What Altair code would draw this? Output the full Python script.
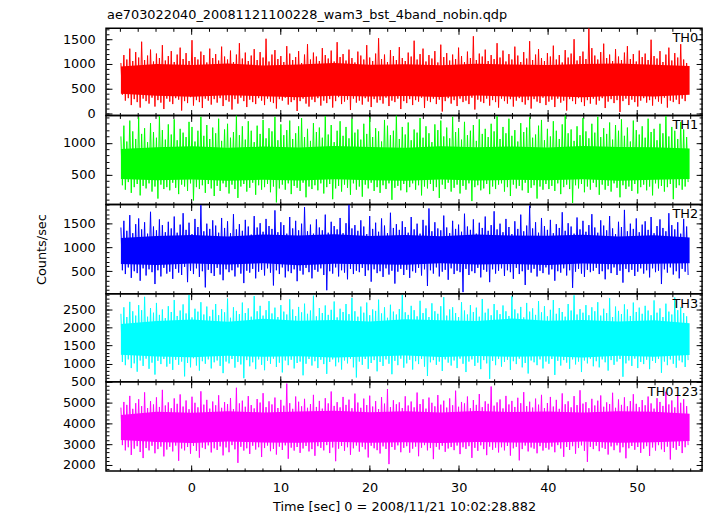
import altair as alt
import numpy as np
import pandas as pd

TITLE = "ae703022040_20081121100228_wam3_bst_4band_nobin.qdp"
X_TITLE = "Time [sec] 0 = 2008/11/21 10:02:28.882"
Y_TITLE = "Counts/sec"

band_names = ["TH0", "TH1", "TH2", "TH3", "TH0123"]
band_colors = ["#ff0000", "#00ff00", "#0000ff", "#00ffff", "#ff00ff"]

t_start = -7.9
t_stop = 55.9
n_bins = 192

# ---- TH0 ----
peaks_th0 = [
    1020, 1180, 1090, 1310, 1060, 1240, 1130, 1450, 1080, 1170, 1290, 1050, 1210, 1120, 1380, 1070,
    1160, 1260, 1040, 1190, 1330, 1100, 1220, 1060, 1480, 1140, 1090, 1250, 1180, 1030, 1310, 1120,
    1200, 1070, 1350, 1150, 1090, 1270, 1040, 1190, 1420, 1110, 1230, 1060, 1170, 1300, 1080, 1240,
    1130, 1510, 1050, 1190, 1280, 1100, 1160, 1040, 1360, 1210, 1080, 1140, 1260, 1020, 1190, 1400,
    1090, 1230, 1150, 1060, 1320, 1180, 1110, 1270, 1050, 1440, 1140, 1200, 1070, 1290, 1120, 1030,
    1250, 1170, 1090, 1380, 1130, 1060, 1210, 1520, 1100, 1190, 1040, 1280, 1160, 1080, 1340, 1120,
    1060, 1230, 1150, 1470, 1090, 1200, 1310, 1050, 1180, 1110, 1260, 1030, 1390, 1140, 1220, 1070,
    1190, 1100, 1330, 1160, 1040, 1250, 1120, 1560, 1080, 1210, 1150, 1290, 1060, 1180, 1100, 1420,
    1130, 1270, 1050, 1200, 1090, 1350, 1170, 1040, 1240, 1110, 1460, 1080, 1190, 1300, 1120, 1060,
    1220, 1150, 1370, 1090, 1180, 1030, 1280, 1130, 1210, 1500, 1070, 1160, 1250, 1100, 1720, 1320,
    1170, 1090, 1240, 1410, 1120, 1190, 1060, 1300, 1150, 1080, 1230, 1360, 1100, 1200, 1050, 1270,
    1140, 1210, 1080, 1490, 1160, 1110, 1260, 1040, 1190, 1330, 1070, 1220, 1130, 1400, 1090, 1020,
]
dips_th0 = [
    380, 260, 310, 170, 290, 230, 120, 300, 250, 200, 320, 140, 270, 220, 90, 300,
    240, 190, 310, 280, 60, 250, 210, 330, 160, 270, 230, 110, 300, 260, 180, 290,
    220, 310, 150, 270, 240, 80, 290, 200, 320, 250, 130, 280, 230, 190, 310, 260,
    170, 300, 240, 210, 100, 290, 260, 320, 180, 230, 270, 50, 250, 300, 200, 140,
    280, 230, 310, 160, 260, 210, 290, 120, 250, 330, 190, 240, 280, 70, 300, 220,
    260, 180, 310, 240, 130, 290, 220, 270, 200, 320, 150, 260, 230, 300, 90, 250,
    210, 290, 170, 270, 240, 320, 110, 260, 230, 300, 190, 280, 40, 250, 310, 200,
    270, 150, 300, 230, 260, 190, 320, 80, 280, 240, 210, 300, 160, 270, 230, 120,
    300, 250, 200, 290, 140, 260, 310, 230, 180, 270, 100, 290, 240, 210, 320, 170,
    240, 280, 130, 300, 220, 260, 60, 290, 250, 190, 310, 230, 150, 270, 200, 300,
    180, 260, 310, 110, 240, 290, 210, 270, 30, 250, 300, 170, 280, 230, 140, 260,
    310, 220, 270, 160, 290, 240, 200, 320, 120, 260, 230, 280, 190, 300, 250, 400,
]
core_lo_th0 = [400, 360, 340, 370, 350, 330, 360, 345, 355, 335, 365, 340, 350, 330, 360, 345, 380]
core_hi_th0 = [950, 1000, 980, 1010, 970, 990, 1020, 985, 995, 975, 1005, 990, 980, 1000, 1010, 985, 960]

# ---- TH1 ----
peaks_th1 = [
    1100, 1270, 1020, 1350, 1180, 1060, 1400, 1140, 1230, 1010, 1310, 1170, 1080, 1420, 1200, 1050,
    1290, 1130, 1370, 1040, 1220, 1160, 1090, 1330, 1250, 1020, 1190, 1410, 1110, 1280, 1060, 1240,
    1150, 1380, 1030, 1210, 1300, 1080, 1170, 1430, 1120, 1260, 1050, 1340, 1190, 1010, 1270, 1140,
    1360, 1070, 1230, 1180, 1410, 1040, 1290, 1120, 1200, 1350, 1060, 1150, 1260, 1390, 1090, 1220,
    1030, 1310, 1170, 1240, 1080, 1420, 1130, 1280, 1010, 1190, 1340, 1110, 1250, 1070, 1380, 1160,
    1210, 1050, 1300, 1140, 1400, 1090, 1230, 1180, 1020, 1360, 1270, 1120, 1190, 1430, 1060, 1250,
    1130, 1320, 1040, 1210, 1160, 1390, 1080, 1260, 1150, 1010, 1290, 1200, 1350, 1100, 1240, 1070,
    1410, 1170, 1230, 1050, 1330, 1120, 1190, 1280, 1030, 1370, 1140, 1220, 1090, 1300, 1180, 1420,
    1060, 1250, 1150, 1380, 1110, 1200, 1020, 1310, 1170, 1240, 1400, 1080, 1130, 1270, 1360, 1040,
    1220, 1100, 1340, 1190, 1060, 1290, 1430, 1150, 1210, 1030, 1260, 1120, 1390, 1180, 1070, 1300,
    1160, 1410, 1090, 1230, 1140, 1320, 1050, 1280, 1190, 1370, 1110, 1240, 1020, 1350, 1200, 1130,
    1260, 1080, 1380, 1170, 1220, 1040, 1300, 1150, 1420, 1100, 1250, 1190, 1060, 1330, 1210, 1090,
]
dips_th1 = [
    330, 260, 380, 210, 300, 350, 170, 320, 280, 360, 230, 310, 120, 340, 270, 300,
    250, 370, 290, 190, 340, 310, 240, 360, 90, 300, 270, 330, 210, 350, 280, 160,
    320, 240, 360, 300, 200, 340, 270, 130, 310, 350, 230, 290, 370, 180, 330, 260,
    300, 350, 220, 310, 60, 280, 340, 260, 360, 190, 320, 290, 240, 370, 140, 310,
    270, 330, 250, 360, 200, 300, 350, 110, 280, 320, 230, 340, 290, 180, 360, 260,
    310, 150, 340, 280, 370, 240, 300, 210, 330, 270, 360, 100, 290, 320, 250, 350,
    220, 300, 360, 260, 330, 170, 310, 280, 350, 240, 300, 130, 340, 270, 370, 230,
    290, 340, 200, 320, 260, 360, 80, 300, 330, 250, 280, 350, 190, 310, 270, 340,
    360, 230, 300, 160, 340, 280, 320, 250, 370, 210, 290, 330, 120, 310, 260, 350,
    270, 320, 240, 360, 190, 300, 340, 270, 50, 330, 280, 350, 220, 310, 260, 370,
    300, 180, 340, 260, 320, 230, 360, 290, 140, 330, 270, 310, 240, 350, 200, 300,
    340, 250, 310, 170, 360, 280, 320, 230, 300, 350, 110, 290, 330, 260, 310, 380,
]
core_lo_th1 = [430, 410, 420, 400, 415, 405, 425, 410, 400, 420, 405, 415, 410, 425, 400, 415, 430]
core_hi_th1 = [900, 930, 945, 920, 940, 925, 950, 935, 920, 945, 930, 940, 925, 950, 935, 930, 910]

# ---- TH2 ----
peaks_th2 = [
    1420, 1560, 1350, 1680, 1300, 1490, 1610, 1380, 1530, 1290, 1750, 1440, 1360, 1590, 1470, 1320,
    1540, 1400, 1650, 1310, 1480, 1720, 1370, 1520, 1280, 1600, 1430, 1890, 1340, 1500, 1390, 1570,
    1460, 1310, 1620, 1410, 1550, 1300, 1700, 1380, 1490, 1350, 1580, 1440, 1270, 1660, 1420, 1510,
    1330, 1600, 1450, 1390, 1780, 1320, 1530, 1470, 1290, 1640, 1400, 1560, 1360, 1500, 1850, 1340,
    1480, 1290, 1590, 1420, 1360, 1690, 1310, 1540, 1450, 1380, 1620, 1300, 1510, 1900, 1400, 1470,
    1350, 1570, 1440, 1280, 1660, 1390, 1520, 1330, 1610, 1460, 1300, 1730, 1410, 1490, 1370, 1550,
    1430, 1310, 1640, 1380, 1500, 1290, 1580, 1460, 1820, 1340, 1530, 1400, 1360, 1670, 1420, 1300,
    1560, 1390, 1480, 1330, 1710, 1440, 1370, 1590, 1290, 1520, 1410, 1650, 1350, 1470, 1760, 1380,
    1500, 1320, 1600, 1430, 1280, 1550, 1390, 1690, 1340, 1460, 1880, 1400, 1530, 1310, 1620, 1450,
    1370, 1580, 1300, 1490, 1410, 1740, 1350, 1510, 1440, 1290, 1630, 1380, 1560, 1330, 1470, 1700,
    1420, 1310, 1570, 1460, 1360, 1660, 1400, 1280, 1540, 1430, 1790, 1340, 1500, 1390, 1610, 1320,
    1480, 1550, 1370, 1640, 1300, 1450, 1590, 1410, 1340, 1720, 1470, 1380, 1530, 1290, 1600, 1440,
]
dips_th2 = [
    520, 440, 580, 360, 500, 460, 300, 560, 410, 540, 480, 230, 520, 390, 570, 450,
    490, 340, 550, 470, 420, 590, 270, 510, 440, 560, 380, 500, 160, 530, 460, 400,
    570, 430, 310, 540, 480, 520, 390, 580, 450, 250, 510, 470, 550, 350, 490, 530,
    410, 560, 470, 200, 520, 440, 580, 370, 500, 460, 540, 290, 510, 430, 570, 480,
    350, 530, 490, 560, 420, 100, 500, 450, 580, 390, 520, 470, 330, 550, 440, 510,
    480, 570, 400, 520, 280, 540, 460, 500, 380, 560, 430, 510, 240, 490, 550, 420,
    530, 360, 500, 470, 570, 410, 540, 190, 520, 450, 580, 390, 490, 530, 320, 560,
    440, 510, 480, 60, 550, 420, 500, 460, 570, 370, 530, 490, 270, 540, 450, 510,
    560, 400, 520, 480, 340, 570, 440, 500, 210, 530, 470, 550, 390, 510, 460, 580,
    430, 540, 300, 500, 470, 560, 410, 520, 150, 490, 550, 450, 380, 530, 480, 510,
    570, 440, 500, 330, 540, 460, 580, 420, 510, 260, 550, 480, 530, 400, 490, 560,
    450, 520, 370, 560, 480, 510, 230, 540, 470, 580, 430, 500, 350, 550, 490, 420,
]
core_lo_th2 = [650, 630, 660, 640, 670, 625, 655, 645, 635, 665, 640, 650, 630, 660, 645, 655, 670]
core_hi_th2 = [1200, 1240, 1260, 1230, 1270, 1250, 1280, 1240, 1260, 1235, 1275, 1250, 1245, 1265, 1230, 1255, 1210]

# ---- TH3 ----
peaks_th3 = [
    2380, 2560, 2290, 2710, 2450, 2330, 2620, 2480, 2850, 2300, 2540, 2410, 2680, 2350, 2500, 2260,
    2590, 2430, 2760, 2320, 2470, 2640, 2390, 2900, 2280, 2520, 2440, 2700, 2360, 2580, 2310, 2490,
    2650, 2340, 2510, 2420, 2800, 2270, 2560, 2460, 2370, 2690, 2400, 2530, 2300, 2870, 2450, 2600,
    2330, 2480, 2730, 2390, 2550, 2290, 2620, 2440, 2360, 2780, 2500, 2320, 2570, 2420, 2660, 2380,
    2470, 2880, 2310, 2540, 2400, 2610, 2350, 2490, 2720, 2280, 2520, 2430, 2650, 2370, 2820, 2450,
    2300, 2580, 2410, 2690, 2340, 2500, 2460, 2770, 2390, 2560, 2270, 2630, 2440, 2360, 2510, 2900,
    2420, 2350, 2600, 2480, 2310, 2740, 2400, 2530, 2290, 2670, 2450, 2380, 2590, 2840, 2330, 2500,
    2560, 2400, 2290, 2700, 2470, 2360, 2620, 2430, 2550, 2300, 2790, 2410, 2520, 2340, 2650, 2480,
    2370, 2610, 2450, 2320, 2860, 2500, 2390, 2570, 2280, 2680, 2440, 2530, 2350, 2730, 2420, 2590,
    2310, 2490, 2760, 2380, 2540, 2430, 2300, 2650, 2470, 2890, 2360, 2510, 2410, 2620, 2340, 2560,
    2450, 2700, 2330, 2520, 2400, 2810, 2290, 2580, 2460, 2370, 2640, 2500, 2320, 2690, 2430, 2550,
    2380, 2600, 2470, 2340, 2750, 2410, 2530, 2290, 2660, 2440, 2360, 2830, 2480, 2570, 2400, 2310,
]
dips_th3 = [
    1050, 960, 1120, 880, 1010, 780, 1090, 940, 1140, 860, 1030, 700, 1080, 990, 1130, 920,
    1000, 830, 1110, 970, 1060, 650, 1020, 900, 1150, 950, 810, 1070, 1000, 1120, 870, 1040,
    1090, 940, 740, 1060, 1010, 1130, 890, 1050, 980, 600, 1100, 930, 1040, 850, 1120, 970,
    820, 1080, 1000, 1140, 910, 1030, 760, 1090, 960, 1110, 870, 1020, 1060, 680, 1000, 1130,
    950, 1070, 880, 1110, 990, 720, 1050, 1120, 930, 1040, 840, 1090, 1010, 1140, 900, 620,
    1060, 970, 1130, 860, 1020, 1100, 790, 1050, 940, 1120, 1000, 710, 1080, 960, 1140, 890,
    1010, 1110, 840, 1070, 990, 1130, 920, 660, 1040, 1100, 970, 1060, 800, 1120, 1030, 950,
    1090, 880, 1140, 1000, 770, 1060, 1120, 940, 1030, 850, 1100, 1010, 580, 1080, 960, 1130,
    920, 1050, 1110, 830, 1070, 990, 1140, 900, 1020, 730, 1090, 1040, 960, 1120, 870, 1060,
    1000, 1130, 690, 1080, 950, 1100, 1030, 860, 1120, 980, 1060, 770, 1090, 1010, 1140, 930,
    1070, 900, 1120, 1040, 810, 1100, 970, 1060, 1130, 640, 1010, 1090, 940, 1140, 880, 1050,
    990, 1110, 850, 1080, 1020, 1130, 750, 1060, 960, 1120, 1000, 890, 1090, 1040, 910, 1100,
]
core_lo_th3 = [1250, 1200, 1180, 1220, 1190, 1210, 1170, 1200, 1230, 1185, 1215, 1195, 1205, 1175, 1220, 1190, 1240]
core_hi_th3 = [2100, 2180, 2220, 2160, 2240, 2190, 2210, 2170, 2230, 2200, 2180, 2250, 2190, 2210, 2170, 2200, 2120]

# ---- TH0123 ----
peaks_th0123 = [
    4750, 5020, 4880, 5310, 4690, 4960, 5150, 4820, 5480, 4730, 5060, 4900, 5240, 4780, 5600, 4850,
    5000, 4720, 5190, 4930, 5380, 4800, 5090, 4670, 5270, 4980, 4760, 5530, 4890, 5120, 4700, 5040,
    4860, 5340, 4740, 5010, 4920, 5210, 4680, 5700, 4950, 5080, 4790, 5300, 4870, 4710, 5160, 4990,
    5440, 4770, 5050, 4900, 5230, 4730, 5120, 4840, 5900, 4960, 4690, 5280, 5030, 4810, 5170, 4740,
    4920, 5360, 4780, 5070, 4700, 5200, 4950, 5520, 4830, 5010, 4760, 5260, 4880, 5130, 4720, 5420,
    4990, 4740, 5180, 4870, 5320, 4800, 5060, 4680, 5250, 4940, 5640, 4770, 5100, 4910, 5000, 4730,
    5290, 4850, 5040, 4760, 5470, 4920, 5150, 4700, 5230, 4980, 4810, 5350, 4890, 5080, 4750, 5190,
    4860, 5560, 4790, 5020, 4950, 5280, 4720, 5110, 4880, 5400, 4770, 5050, 4930, 5760, 4840, 5000,
    5140, 4710, 5310, 4900, 5070, 4780, 5220, 4960, 5490, 4820, 5030, 4750, 5180, 4890, 5360, 4730,
    4970, 5260, 4800, 5120, 4690, 5430, 4910, 5050, 4760, 5300, 4870, 5580, 4940, 5010, 4720, 5170,
    4850, 5080, 5330, 4790, 5000, 4920, 5460, 4740, 5140, 4880, 5240, 4810, 5060, 5390, 4930, 4770,
    5110, 4860, 5280, 4950, 4700, 5200, 5020, 4830, 5510, 4900, 5090, 4760, 5320, 4980, 5150, 4820,
]
dips_th0123 = [
    2950, 2700, 2850, 2480, 2780, 2900, 2620, 2330, 2810, 2700, 2920, 2560, 2760, 2880, 2410, 2740,
    2870, 2650, 2930, 2200, 2790, 2700, 2860, 2540, 2910, 2680, 2350, 2830, 2760, 2940, 2600, 2800,
    2720, 2890, 2460, 2840, 2610, 2950, 2750, 2100, 2870, 2690, 2800, 2530, 2920, 2740, 2850, 2380,
    2810, 2930, 2660, 2770, 2500, 2880, 2720, 2940, 2300, 2830, 2690, 2860, 2580, 2790, 2910, 2650,
    2760, 2440, 2900, 2820, 2700, 2950, 2570, 2840, 2180, 2780, 2910, 2680, 2850, 2490, 2800, 2930,
    2640, 2870, 2750, 2360, 2920, 2800, 2710, 2550, 2890, 2770, 2040, 2860, 2730, 2940, 2610, 2820,
    2900, 2590, 2780, 2880, 2420, 2830, 2950, 2700, 2810, 2280, 2870, 2740, 2920, 2630, 2790, 2860,
    2710, 2930, 2520, 2850, 2770, 2900, 2340, 2820, 2680, 2940, 2760, 2470, 2880, 2730, 2830, 2600,
    2850, 2700, 2910, 2450, 2800, 2870, 2220, 2760, 2930, 2650, 2840, 2780, 2560, 2900, 2690, 2820,
    2740, 2880, 2610, 2950, 2790, 2390, 2860, 2720, 2900, 2540, 2810, 2940, 2680, 2150, 2870, 2760,
    2920, 2660, 2830, 2770, 2500, 2890, 2710, 2940, 2600, 2850, 2320, 2800, 2910, 2730, 2860, 2580,
    2780, 2900, 2430, 2840, 2690, 2950, 2750, 2620, 2880, 2260, 2820, 2730, 2910, 2570, 2850, 2950,
]
core_lo_th0123 = [3200, 3100, 3050, 3120, 3080, 3060, 3110, 3070, 3090, 3050, 3100, 3080, 3060, 3120, 3070, 3090, 3150]
core_hi_th0123 = [4400, 4550, 4500, 4580, 4520, 4560, 4600, 4530, 4570, 4510, 4590, 4540, 4560, 4520, 4580, 4550, 4450]

peaks = [peaks_th0, peaks_th1, peaks_th2, peaks_th3, peaks_th0123]
dips = [dips_th0, dips_th1, dips_th2, dips_th3, dips_th0123]
core_lo = [core_lo_th0, core_lo_th1, core_lo_th2, core_lo_th3, core_lo_th0123]
core_hi = [core_hi_th0, core_hi_th1, core_hi_th2, core_hi_th3, core_hi_th0123]

x_domain = [-9.57, 57.3]
y_domains = [[-40, 1720], [25, 1431], [27, 1902], [500, 2936], [1714, 5986]]
y_major = [[0, 500, 1000, 1500], [500, 1000], [500, 1000, 1500],
           [500, 1000, 1500, 2000, 2500], [2000, 3000, 4000, 5000]]
y_minor_step = [100, 100, 100, 100, 200]
x_major = [0, 10, 20, 30, 40, 50]
x_minor = list(range(-8, 57, 2))
heights = [88, 90, 90, 89, 90]
PW = 602
FONT = "DejaVu Sans"


def tick_axis(orient, values, size, labels=False, title=None, label_pad=0, title_pad=0):
    kw = dict(orient=orient, values=values, tickSize=size, offset=-size,
              domain=False, grid=False, labels=labels, ticks=True,
              tickColor="black", tickWidth=1, title=title, minExtent=0,
              labelFlush=False, labelOverlap=False, format="d")
    if labels:
        kw["labelPadding"] = label_pad
    if title:
        kw["titlePadding"] = title_pad
    return alt.Axis(**kw)


def panel(i):
    dt = (t_stop - t_start) / n_bins
    t_peak = t_start + dt * np.arange(n_bins)
    t_dip = t_peak + dt / 2
    line_df = pd.DataFrame({"t": np.concatenate([t_peak, t_dip]),
                            "rate": list(peaks[i]) + list(dips[i])})
    core_df = pd.DataFrame({"t": np.linspace(t_start, t_stop, len(core_lo[i])),
                            "lo": core_lo[i], "hi": core_hi[i]})
    lo_d, hi_d = y_domains[i]
    minor_vals = [v for v in range(0, 6001, y_minor_step[i]) if lo_d <= v <= hi_d]
    xs = alt.Scale(domain=x_domain, nice=False, zero=False)
    ys = alt.Scale(domain=y_domains[i], nice=False, zero=False)
    last = i == 4
    color = band_colors[i]

    area = alt.Chart(core_df).mark_area(color=color, clip=True).encode(
        x=alt.X("t:Q", scale=xs,
                axis=tick_axis("bottom", x_major, 6, labels=last,
                               title=X_TITLE if last else None, label_pad=11, title_pad=6)),
        y=alt.Y("lo:Q", scale=ys,
                axis=tick_axis("left", y_major[i], 6, labels=True,
                               title=Y_TITLE if i == 2 else None, label_pad=11, title_pad=14)),
        y2="hi:Q",
    )
    line = alt.Chart(line_df).mark_line(color=color, strokeWidth=1, clip=True).encode(
        x=alt.X("t:Q", scale=xs, axis=tick_axis("bottom", x_minor, 3)),
        y=alt.Y("rate:Q", scale=ys, axis=tick_axis("left", minor_vals, 3)),
    )
    top_major = alt.Chart(core_df).mark_line(opacity=0).encode(
        x=alt.X("t:Q", scale=xs, axis=tick_axis("top", x_major, 6)),
        y=alt.Y("lo:Q", scale=ys, axis=tick_axis("right", y_major[i], 6)),
    )
    top_minor = alt.Chart(core_df).mark_line(opacity=0).encode(
        x=alt.X("t:Q", scale=xs, axis=tick_axis("top", x_minor, 3)),
        y=alt.Y("hi:Q", scale=ys, axis=tick_axis("right", minor_vals, 3)),
    )
    label = alt.Chart(pd.DataFrame({"name": [band_names[i]]})).mark_text(
        align="right", baseline="alphabetic", font=FONT, fontSize=13, color="black"
    ).encode(x=alt.value(PW - 4), y=alt.value(14), text="name:N")

    layers = [area, line, top_major, top_minor, label]
    if i == 0:
        title_txt = alt.Chart(pd.DataFrame({"name": [TITLE]})).mark_text(
            align="left", baseline="alphabetic", font=FONT, fontSize=13, color="black"
        ).encode(x=alt.value(1), y=alt.value(-9), text="name:N")
        layers.append(title_txt)

    return alt.layer(*layers).resolve_axis(
        x="independent", y="independent"
    ).properties(width=PW, height=heights[i])


chart = alt.vconcat(*[panel(i) for i in range(5)], spacing=0, bounds="flush").properties(
    padding={"left": 27, "top": -2, "right": 5, "bottom": 0}
).configure_view(stroke="black", strokeWidth=1.5).configure_axis(
    labelFont=FONT, labelFontSize=13, labelColor="black",
    titleFont=FONT, titleFontSize=13, titleFontWeight="normal", titleColor="black"
)

chart.save("out.html", embed_options={"renderer": "svg", "actions": False})
